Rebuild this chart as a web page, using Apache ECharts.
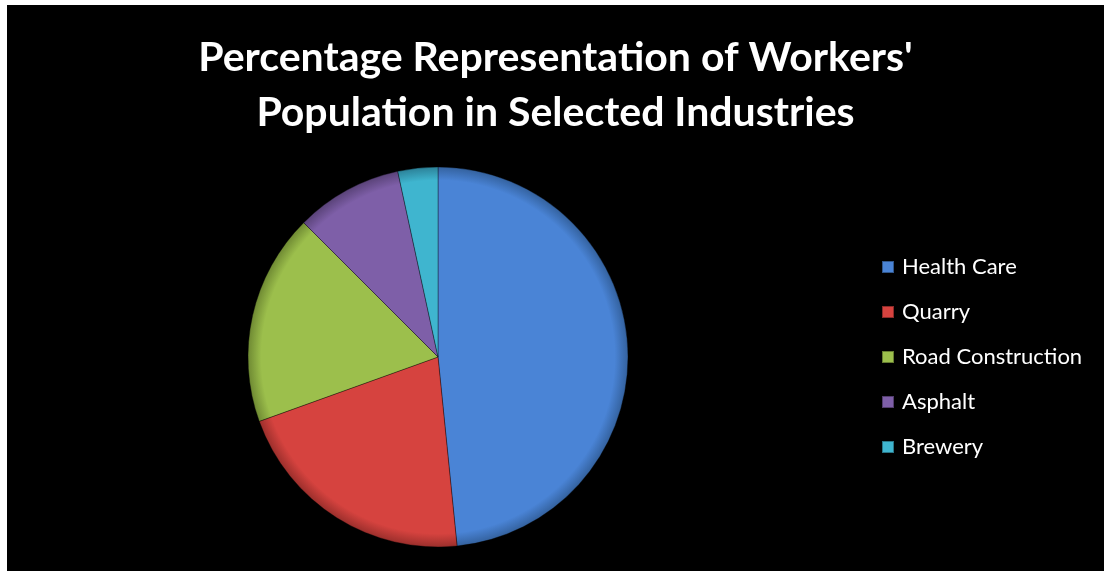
<!DOCTYPE html>
<html>
<head>
<meta charset="utf-8">
<script src="https://cdn.jsdelivr.net/npm/echarts@6/dist/echarts.min.js"></script>
<style>
  html, body { margin: 0; padding: 0; background: #ffffff; width: 1104px; height: 571px; overflow: hidden; }
  #chart { position: absolute; left: 7px; top: 5px; width: 1097px; height: 566px; }
</style>
</head>
<body>
<div id="chart"></div>
<script>
// Share of workers per industry (percent)
const industries = ['Health Care', 'Quarry', 'Road Construction', 'Asphalt', 'Brewery'];
const shares = [48.4, 21.1, 18.0, 9.1, 3.4];
const baseColors = ['#4a84d6', '#d6433f', '#9cbf4c', '#7e5fa8', '#3fb5cf'];
const rimColors = ['#34629f', '#9c2f2c', '#6f8a33', '#5a4379', '#2c8299'];

const cx = 431, cy = 352, r = 190;

// Slightly darker rim around the outer edge of each slice
function shade(i) {
  return new echarts.graphic.RadialGradient(cx, cy, r, [
    { offset: 0, color: baseColors[i] },
    { offset: 0.93, color: baseColors[i] },
    { offset: 1, color: rimColors[i] }
  ], true);
}

const chart = echarts.init(document.getElementById('chart'));
chart.setOption({
  backgroundColor: '#000000',
  animation: false,
  title: {
    text: "Percentage Representation of Workers'\nPopulation in Selected Industries",
    left: 'center',
    top: 20,
    textStyle: {
      color: '#ffffff',
      fontFamily: 'Lato',
      fontWeight: 'bold',
      fontSize: 41,
      lineHeight: 55
    }
  },
  legend: {
    orient: 'vertical',
    left: 869,
    top: 246,
    icon: 'rect',
    itemWidth: 12,
    itemHeight: 12,
    itemGap: 23,
    textStyle: { color: '#ffffff', fontFamily: 'Lato', fontSize: 22, lineHeight: 20, padding: [0, 0, 0, 3] },
    data: industries.map((name, i) => ({ name: name, itemStyle: { color: baseColors[i] } }))
  },
  series: [{
    type: 'pie',
    center: [cx, cy],
    radius: r,
    startAngle: 90,
    clockwise: true,
    label: { show: false },
    labelLine: { show: false },
    itemStyle: { borderColor: 'rgba(0,0,0,0.35)', borderWidth: 1 },
    data: industries.map((name, i) => ({
      name: name,
      value: shares[i],
      itemStyle: { color: shade(i) }
    }))
  }],
  color: baseColors
});
</script>
</body>
</html>
